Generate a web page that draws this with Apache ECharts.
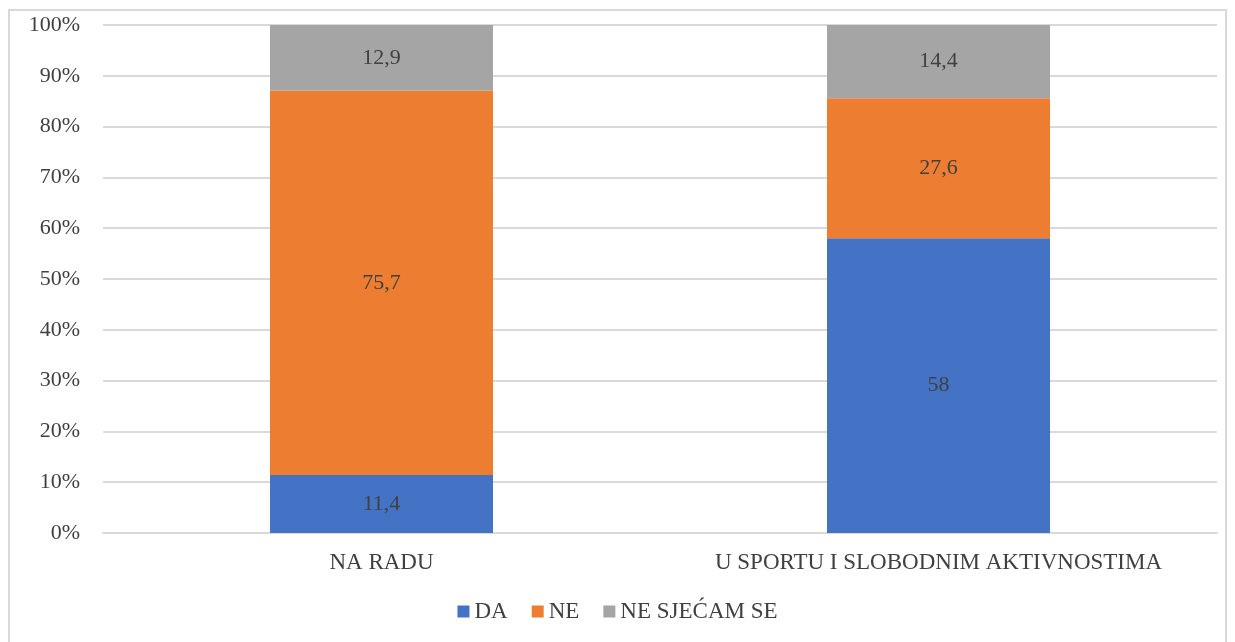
<!DOCTYPE html>
<html>
<head>
<meta charset="utf-8">
<script src="https://cdn.jsdelivr.net/npm/echarts@6/dist/echarts.min.js"></script>
<style>
  html, body { margin: 0; padding: 0; background: #fff; }
  #frame { position: absolute; left: 8px; top: 9px; width: 1219px; height: 660px; border: 2px solid #d9d9d9; box-sizing: border-box; }
  #main { position: absolute; left: 0; top: 0; width: 1235px; height: 642px; }
</style>
</head>
<body>
<div id="frame"></div>
<div id="main"></div>
<script>
const categories = ['NA RADU', 'U SPORTU I SLOBODNIM AKTIVNOSTIMA']
const seriesNames = ['DA', 'NE', 'NE SJEĆAM SE']
const daValues = [11.4, 58]
const neValues = [75.7, 27.6]
const neSjecamValues = [12.9, 14.4]
const colors = ['#4472c4', '#ed7d31', '#a5a5a5']

const chart = echarts.init(document.getElementById('main'), null, { renderer: 'canvas' })

const fmt = p => String(p.value).replace('.', ',')
const barSeries = [daValues, neValues, neSjecamValues].map((vals, i) => ({
  name: seriesNames[i],
  type: 'bar',
  stack: 'total',
  barWidth: 223,
  data: vals,
  itemStyle: { color: colors[i] },
  label: {
    show: true,
    position: 'inside',
    formatter: fmt,
    color: '#404040',
    fontFamily: 'Liberation Serif',
    fontSize: 22
  }
}))

chart.setOption({
  animation: false,
  textStyle: { fontFamily: 'Liberation Serif' },
  grid: { left: 103, right: 18, top: 25, bottom: 109 },
  legend: {
    bottom: 14,
    left: 'center',
    itemWidth: 12,
    itemHeight: 12,
    itemGap: 24,
    icon: 'rect',
    textStyle: { color: '#404040', fontSize: 23, fontFamily: 'Liberation Serif' },
    data: seriesNames
  },
  xAxis: {
    type: 'category',
    data: categories,
    axisLine: { show: true, lineStyle: { color: '#d9d9d9', width: 2 } },
    axisTick: { show: false },
    axisLabel: { interval: 0, hideOverlap: false, color: '#404040', fontSize: 23, margin: 18, fontFamily: 'Liberation Serif' }
  },
  yAxis: {
    type: 'value',
    min: 0,
    max: 100,
    interval: 10,
    axisLine: { show: false },
    axisTick: { show: false },
    axisLabel: { color: '#404040', fontSize: 22, margin: 23, formatter: '{value}%', fontFamily: 'Liberation Serif' },
    splitLine: { lineStyle: { color: '#d9d9d9', width: 2 } }
  },
  series: barSeries
})
</script>
</body>
</html>
